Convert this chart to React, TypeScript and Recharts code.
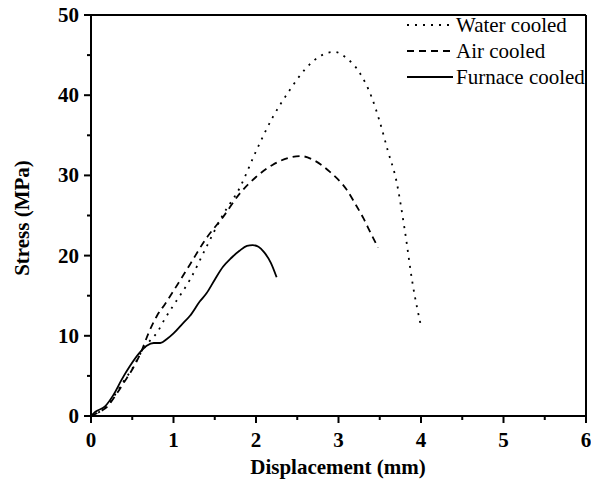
import { LineChart, Line, XAxis, YAxis, ReferenceLine } from 'recharts'

const waterX = [0, 0.1, 0.2, 0.3, 0.4, 0.5, 0.6, 0.7, 0.8, 0.9, 1.0, 1.2, 1.4, 1.6, 1.8, 2.0, 2.2, 2.4, 2.6, 2.8, 2.95, 3.1, 3.25, 3.4, 3.5, 3.6, 3.7, 3.8, 3.9, 4.0]
const waterY = [0, 0.5, 1.3, 2.8, 4.4, 5.9, 7.8, 9.2, 10.4, 12.2, 13.8, 17.0, 21.1, 25.1, 28.4, 33.0, 37.2, 40.5, 43.3, 45.0, 45.4, 44.6, 42.9, 39.8, 36.7, 33.0, 29.4, 23.4, 16.4, 11.2]

const airX = [0, 0.1, 0.2, 0.3, 0.4, 0.5, 0.6, 0.7, 0.8, 0.9, 1.0, 1.2, 1.4, 1.6, 1.8, 2.0, 2.2, 2.4, 2.55, 2.7, 2.9, 3.1, 3.2, 3.3, 3.4, 3.48]
const airY = [0, 0.5, 1.2, 2.6, 4.2, 5.8, 7.8, 10.4, 12.5, 14.0, 15.6, 18.9, 22.2, 24.8, 27.7, 29.8, 31.3, 32.2, 32.4, 31.9, 30.4, 28.2, 26.5, 24.7, 22.6, 21.0]

const furnaceX = [0, 0.05, 0.17, 0.27, 0.37, 0.47, 0.59, 0.68, 0.76, 0.84, 0.92, 1.0, 1.1, 1.2, 1.32, 1.4, 1.5, 1.6, 1.7, 1.8, 1.89, 1.96, 2.03, 2.1, 2.18, 2.25]
const furnaceY = [0, 0.5, 1.2, 2.6, 4.5, 6.2, 7.9, 8.8, 9.1, 9.1, 9.6, 10.3, 11.4, 12.5, 14.3, 15.3, 17.0, 18.6, 19.7, 20.6, 21.2, 21.3, 21.1, 20.4, 19.1, 17.3]

const xTicks = [0, 0.5, 1, 1.5, 2, 2.5, 3, 3.5, 4, 4.5, 5, 5.5, 6]
const yTicks = [0, 5, 10, 15, 20, 25, 30, 35, 40, 45, 50]

const series = [
  { name: 'Water cooled', xs: waterX, ys: waterY, dash: '2 6', width: 1.8 },
  { name: 'Air cooled', xs: airX, ys: airY, dash: '7 5', width: 1.8 },
  { name: 'Furnace cooled', xs: furnaceX, ys: furnaceY, dash: undefined, width: 1.8 },
]

const toPoints = (xs: number[], ys: number[]) => xs.map((x, i) => ({ x, y: ys[i] }))

const FONT = '"Liberation Serif", "Times New Roman", serif'
const FS = 21

function XTick({ x, y, payload }: any) {
  const major = Number.isInteger(payload.value)
  return (
    <g>
      <line x1={x} x2={x} y1={y} y2={y + (major ? 7 : 4)} stroke="#000" strokeWidth={2} />
      {major && (
        <text x={x} y={y + 31} textAnchor="middle" fontFamily={FONT} fontWeight="bold" fontSize={FS} fill="#000">
          {payload.value}
        </text>
      )}
    </g>
  )
}

function YTick({ x, y, payload }: any) {
  const major = payload.value % 10 === 0
  return (
    <g>
      <line x1={x} x2={x - (major ? 7 : 4)} y1={y} y2={y} stroke="#000" strokeWidth={2} />
      {major && (
        <text x={x - 12} y={y + 7} textAnchor="end" fontFamily={FONT} fontWeight="bold" fontSize={FS} fill="#000">
          {payload.value}
        </text>
      )}
    </g>
  )
}

function LegendBox() {
  return (
    <svg width={185} height={80} style={{ position: 'absolute', left: 405, top: 13 }}>
      {series.map((s, i) => (
        <g key={s.name}>
          <line x1={2} x2={48} y1={12 + i * 26} y2={12 + i * 26} stroke="#000" strokeWidth={s.width} strokeDasharray={s.dash} />
          <text x={51} y={19 + i * 26} fontFamily={FONT} fontSize={FS} fill="#000">
            {s.name}
          </text>
        </g>
      ))}
    </svg>
  )
}

export default function App() {
  return (
    <div style={{ position: 'absolute', left: 0, top: 0, width: 591, height: 489, background: '#fff' }}>
      <LineChart width={591} height={489} margin={{ top: 15, right: 5, bottom: 0, left: 0 }}>
        <XAxis
          dataKey="x"
          type="number"
          domain={[0, 6]}
          ticks={xTicks}
          interval={0}
          tick={<XTick />}
          tickLine={false}
          tickSize={0}
          tickMargin={0}
          axisLine={{ stroke: '#000', strokeWidth: 2 }}
          height={73}
          allowDataOverflow
          label={{
            content: () => (
              <text x={338} y={474} textAnchor="middle" fontFamily={FONT} fontWeight="bold" fontSize={FS} fill="#000">
                Displacement (mm)
              </text>
            ),
          }}
        />
        <YAxis
          dataKey="y"
          type="number"
          domain={[0, 50]}
          ticks={yTicks}
          interval={0}
          tick={<YTick />}
          tickLine={false}
          tickSize={0}
          tickMargin={0}
          axisLine={{ stroke: '#000', strokeWidth: 2 }}
          width={91}
          allowDataOverflow
          label={{
            content: () => (
              <text
                x={29}
                y={218}
                transform="rotate(-90 29 218)"
                textAnchor="middle"
                fontFamily={FONT}
                fontWeight="bold"
                fontSize={FS}
                fill="#000"
              >
                Stress (MPa)
              </text>
            ),
          }}
        />
        <ReferenceLine y={50} stroke="#000" strokeWidth={2} ifOverflow="extendDomain" />
        <ReferenceLine x={6} stroke="#000" strokeWidth={2} ifOverflow="extendDomain" />
        {series.map((s) => (
          <Line
            key={s.name}
            name={s.name}
            data={toPoints(s.xs, s.ys)}
            dataKey="y"
            type="monotone"
            stroke="#000"
            strokeWidth={s.width}
            strokeDasharray={s.dash}
            dot={false}
            activeDot={false}
            isAnimationActive={false}
          />
        ))}
      </LineChart>
      <LegendBox />
    </div>
  )
}
